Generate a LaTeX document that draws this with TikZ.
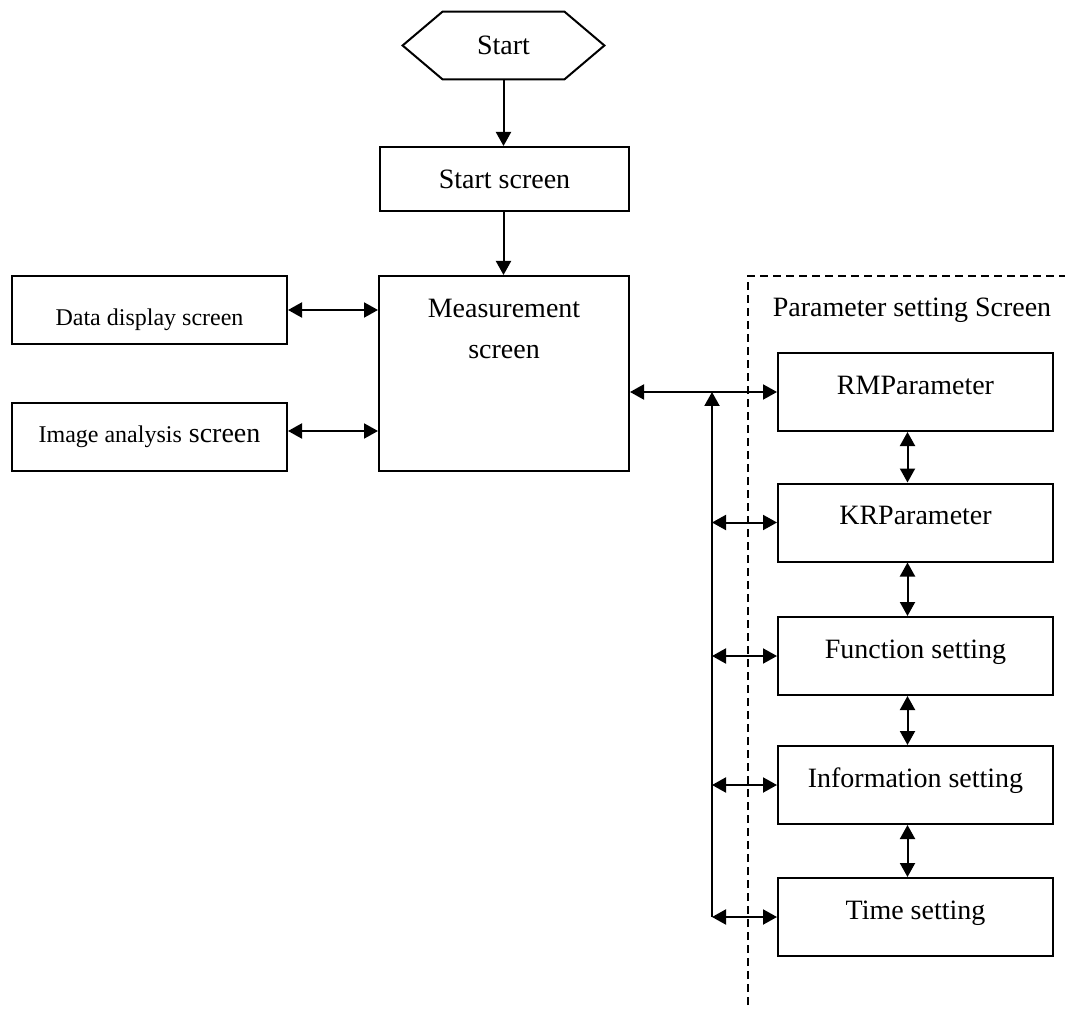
\documentclass[tikz,border=0pt]{standalone}
\usepackage{fontspec}
\setmainfont{Liberation Serif}
\usetikzlibrary{arrows.meta,calc}

\begin{document}
\begin{tikzpicture}[x = 0.5pt, y = -0.5pt, >={Triangle[length=7pt,width=7.5pt]},
  box/.style = {draw, line width = 1pt, minimum width = 137.5pt, minimum height = 34pt, inner sep = 0pt, font = \fontsize{14}{20.5}\selectfont},
  parbox/.style = {box, minimum height = 39pt, text height = 9.6pt, text depth = 7.5pt},
  link/.style = {line width = 1pt}]
\useasboundingbox (0,0) rectangle (1065,1010);
% main column
\node[minimum width = 100.5pt, minimum height = 33.5pt, inner sep = 0pt, font = \fontsize{14}{17}\selectfont] (start) at (503.5,45.5) {Start};
\draw[line width = 1pt] (start.west) -- ($(start.north west)+(40,0)$) -- ($(start.north east)+(-40,0)$) -- (start.east) -- ($(start.south east)+(-40,0)$) -- ($(start.south west)+(40,0)$) -- cycle;
\node[box, minimum width = 124.5pt, minimum height = 32pt] (startscr) at (504.5,179) {Start screen};
\node[box, minimum width = 125pt, minimum height = 97.5pt, label = {[anchor = north, inner sep = 0pt, align = center, font = \fontsize{14}{20.5}\selectfont, yshift = -12pt]north:Measurement\\screen}] (meas) at (504,373.5) {};
% left screens
\node[box, font = \fontsize{12}{14}\selectfont, text height = 18pt] (data) at (149.5,310) {Data display screen};
\node[box] (image) at (149.5,437) {{\fontsize{12}{14}\selectfont Image analysis} screen};
% parameter screens
\draw[line width = 0.75pt, dash pattern = on 4pt off 2.5pt] (748,1005) -- (748,276) -- (1065,276);
\node[font = \fontsize{14}{17}\selectfont] (params) at (912,310) {Parameter setting Screen};
\node[parbox] (rm) at (915.5,392) {RMParameter};
\node[parbox] (kr) at (915.5,522.5) {KRParameter};
\node[parbox] (func) at (915.5,656) {Function setting};
\node[parbox] (info) at (915.5,785) {Information setting};
\node[parbox] (time) at (915.5,917) {Time setting};
% arrows
\draw[link, ->] (start.south) -- (startscr.north -| start.south);
\draw[link, ->] (startscr.south -| start.south) -- (meas.north -| start.south);
\draw[link, <->] (data.east) -- (data.east -| meas.west);
\draw[link, <->] ([yshift = 3pt]image.east) -- ([yshift = 3pt]image.east -| meas.west);
\draw[link, <->] (meas.east |- rm.west) -- (rm.west);
\coordinate (bus) at (712,917);
\draw[link, ->] (bus) -- (bus |- rm.west);
\draw[link, <->] (bus |- kr.west) -- (kr.west);
\draw[link, <->] (bus |- func.west) -- (func.west);
\draw[link, <->] (bus |- info.west) -- (info.west);
\draw[link, <->] (bus) -- (time.west);
\draw[link, <->] ([xshift = -4pt]rm.south) -- ([xshift = -4pt]kr.north);
\draw[link, <->] ([xshift = -4pt]kr.south) -- ([xshift = -4pt]func.north);
\draw[link, <->] ([xshift = -4pt]func.south) -- ([xshift = -4pt]info.north);
\draw[link, <->] ([xshift = -4pt]info.south) -- ([xshift = -4pt]time.north);
\end{tikzpicture}
\end{document}
